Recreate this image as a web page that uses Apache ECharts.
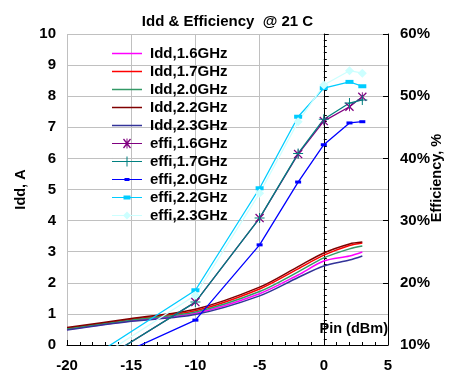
<!DOCTYPE html>
<html>
<head>
<meta charset="utf-8">
<script src="https://cdn.jsdelivr.net/npm/echarts@6/dist/echarts.min.js"></script>
<style>
  html, body { margin: 0; padding: 0; background: #fff; }
  #chart { width: 455px; height: 379px; }
</style>
</head>
<body>
<div id="chart"></div>
<script>
// input power points (dBm)
const pin = [-20, -15, -10, -5, -2, 0, 2, 3];

// drain current, A
const idd16 = [0.50, 0.78, 1.02, 1.65, 2.25, 2.70, 2.86, 2.99];
const idd17 = [0.53, 0.82, 1.10, 1.80, 2.45, 2.89, 3.20, 3.28];
const idd20 = [0.52, 0.80, 1.06, 1.72, 2.35, 2.80, 3.09, 3.18];
const idd22 = [0.56, 0.85, 1.15, 1.86, 2.52, 2.96, 3.25, 3.31];
const idd23 = [0.48, 0.76, 0.98, 1.58, 2.17, 2.54, 2.73, 2.86];

// efficiency, % (values below 10% are clipped by the axis)
const effPin = [-20, -10, -5, -2, 0, 2, 3];
const eff16 = [4.1, 16.9, 30.4, 40.7, 46.0, 48.3, 49.9];
const eff17 = [4.1, 16.9, 30.4, 40.8, 46.3, 48.9, 49.4];
const eff20 = [4.6, 14.0, 26.1, 36.2, 42.2, 45.7, 45.9];
const eff22 = [5.5, 18.8, 35.2, 46.7, 51.3, 52.3, 51.6];
const eff23 = [4.7, 18.0, 34.4, 45.9, 51.8, 54.1, 53.7];

const xTicks = [-20, -15, -10, -5, 0, 5];

const FONT = '"Liberation Sans", Arial, sans-serif';

// marker shapes (10x10 box)
const asteriskShape = 'M0,1L1,0L10,9L9,10Z M9,0L10,1L1,10L0,9Z M4.5,0H5.5V10H4.5Z';
const plusShape = 'M4.5,0H5.5V10H4.5Z M0,4.5H10V5.5H0Z';

// legend icons: 30x10 box, line across the middle plus marker in the centre
const lineOnly = 'path://M0,0H30V1.5H0Z';
const legLine = 'M0,4.4H30V5.6H0Z';
const legAsterisk = 'path://' + legLine + ' M11,1L12,0L19,9L18,10Z M18,0L19,1L12,10L11,9Z M14.5,0H15.5V10H14.5Z';
const legPlus = 'path://' + legLine + ' M14.5,0H15.5V10H14.5Z M0,0H0.01V10H0Z';
const legSmallDash = 'path://' + legLine + ' M12.5,3.5H17.5V6.5H12.5Z M0,0H0.01V10H0Z';
const legDash = 'path://' + legLine + ' M11.5,3H18.5V7H11.5Z M0,0H0.01V10H0Z';
const legDiamond = 'path://' + legLine + ' M15,1L19,5L15,9L11,5Z M0,0H0.01V10H0Z';

function pairs(xs, ys) {
  return xs.map((x, i) => [x, ys[i]]);
}

function iddSeries(name, data, color) {
  return {
    name: name,
    type: 'line',
    yAxisIndex: 0,
    data: pairs(pin, data),
    smooth: 0.3,
    symbol: 'none',
    lineStyle: { color: color, width: 1.5 },
    itemStyle: { color: color },
    z: 2
  };
}

function effSeries(name, data, color, symbol, size) {
  return {
    name: name,
    type: 'line',
    yAxisIndex: 1,
    data: pairs(effPin, data),
    symbol: symbol,
    symbolSize: size,
    showAllSymbol: true,
    lineStyle: { color: color, width: 1.3 },
    itemStyle: { color: color, borderWidth: 0 },
    z: 3
  };
}

const chart = echarts.init(document.getElementById('chart'));

const axisText = { fontFamily: FONT, fontWeight: 'bold', fontSize: 15, color: '#000' };

chart.setOption({
  animation: false,
  title: {
    text: 'Idd & Efficiency  @ 21 C',
    left: 'center',
    top: 9,
    textStyle: { fontFamily: FONT, fontWeight: 'bold', fontSize: 15, color: '#000' }
  },
  grid: { left: 67, right: 67, top: 34, bottom: 34 },
  legend: {
    orient: 'vertical',
    left: 112,
    top: 46,
    padding: 0,
    itemWidth: 30,
    itemHeight: 10,
    itemGap: 3,
    symbolKeepAspect: true,
    textStyle: { fontFamily: FONT, fontWeight: 'bold', fontSize: 15, color: '#000', padding: [0, 0, 0, 3] },
    data: [
      { name: 'Idd,1.6GHz', icon: lineOnly },
      { name: 'Idd,1.7GHz', icon: lineOnly },
      { name: 'Idd,2.0GHz', icon: lineOnly },
      { name: 'Idd,2.2GHz', icon: lineOnly },
      { name: 'Idd,2.3GHz', icon: lineOnly },
      { name: 'effi,1.6GHz', icon: legAsterisk },
      { name: 'effi,1.7GHz', icon: legPlus },
      { name: 'effi,2.0GHz', icon: legSmallDash },
      { name: 'effi,2.2GHz', icon: legDash },
      { name: 'effi,2.3GHz', icon: legDiamond }
    ]
  },
  graphic: [{
    type: 'text',
    right: 67,
    top: 321,
    style: { text: 'Pin (dBm)', font: 'bold 14.5px ' + FONT, fill: '#000' }
  }, {
    type: 'text',
    x: 437,
    y: 178,
    rotation: Math.PI / 2,
    style: {
      text: 'Efficiency, %', font: 'bold 14.5px ' + FONT, fill: '#000',
      align: 'center', verticalAlign: 'middle'
    }
  }],
  xAxis: {
    type: 'value',
    min: xTicks[0],
    max: xTicks[xTicks.length - 1],
    interval: 5,
    axisLine: { onZero: false, lineStyle: { color: '#000', width: 1 } },
    axisTick: { inside: true, length: 5, lineStyle: { color: '#000' } },
    minorTick: { show: true, splitNumber: 5, length: 3, lineStyle: { color: '#000' } },
    axisLabel: Object.assign({ margin: 13 }, axisText),
    splitLine: { show: true, lineStyle: { color: '#c0c0c0', width: 1 } }
  },
  yAxis: [{
    type: 'value',
    min: 0,
    max: 10,
    interval: 1,
    name: 'Idd, A',
    nameLocation: 'middle',
    nameRotate: 90,
    nameGap: 36,
    nameTextStyle: { fontFamily: FONT, fontWeight: 'bold', fontSize: 14.5, color: '#000' },
    axisLine: { show: true, lineStyle: { color: '#000', width: 1 } },
    axisTick: { inside: true, length: 5, lineStyle: { color: '#000' } },
    minorTick: { show: true, splitNumber: 5, length: 3, lineStyle: { color: '#000' } },
    axisLabel: Object.assign({ margin: 11 }, axisText),
    splitLine: { show: true, lineStyle: { color: '#c0c0c0', width: 1 } }
  }, {
    type: 'value',
    min: 10,
    max: 60,
    interval: 10,
    position: 'right',
    axisLine: { show: true, lineStyle: { color: '#000', width: 1 } },
    axisTick: { inside: true, length: 5, lineStyle: { color: '#000' } },
    axisLabel: Object.assign({ margin: 12, formatter: '{value}%' }, axisText),
    splitLine: { show: false }
  }],
  series: [
    iddSeries('Idd,1.6GHz', idd16, '#ff00ff'),
    iddSeries('Idd,1.7GHz', idd17, '#ff0000'),
    iddSeries('Idd,2.0GHz', idd20, '#339966'),
    iddSeries('Idd,2.2GHz', idd22, '#800000'),
    iddSeries('Idd,2.3GHz', idd23, '#333399'),
    effSeries('effi,1.6GHz', eff16, '#800080', 'path://' + asteriskShape, 9),
    effSeries('effi,1.7GHz', eff17, '#008080', 'path://' + plusShape, 10),
    effSeries('effi,2.0GHz', eff20, '#0000ff', 'rect', [6, 3]),
    effSeries('effi,2.2GHz', eff22, '#00ccff', 'rect', [8, 4]),
    effSeries('effi,2.3GHz', eff23, '#ccffff', 'diamond', 9)
  ]
});
</script>
</body>
</html>
